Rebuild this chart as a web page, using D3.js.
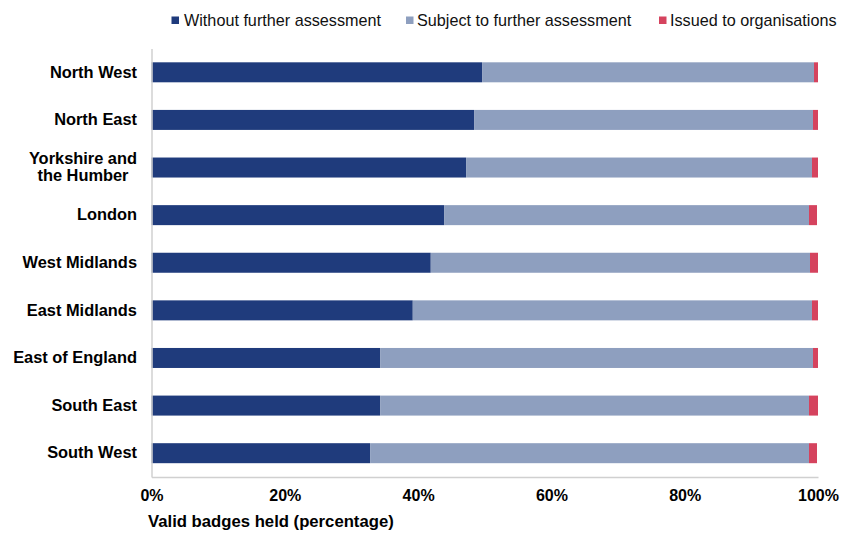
<!DOCTYPE html>
<html>
<head>
<meta charset="utf-8">
<script src="https://cdn.jsdelivr.net/npm/d3@7"></script>
<style>
  body { margin: 0; background: #fff; }
  text { font-family: "Liberation Sans", Arial, sans-serif; }
</style>
</head>
<body>
<svg id="chart" width="851" height="533"></svg>
<script>
// regions, top to bottom
var regions = ["North West", "North East", "Yorkshire and the Humber", "London",
    "West Midlands", "East Midlands", "East of England", "South East", "South West"];

var seriesNames = ["Without further assessment", "Subject to further assessment", "Issued to organisations"];

// percentages
var withoutAssessment = [49.6, 48.4, 47.2, 43.9, 41.9, 39.2, 34.3, 34.3, 32.8];
var subjectToAssessment = [49.8, 50.85, 51.9, 54.75, 56.9, 59.9, 64.95, 64.35, 65.85];
var issuedToOrgs = [0.6, 0.75, 0.9, 1.2, 1.2, 0.9, 0.75, 1.35, 1.2];

var xTicks = [0, 20, 40, 60, 80, 100];

var colors = ["#1f3b7c", "#8e9fbf", "#d5435e"];

var svg = d3.select("#chart");

var x = d3.scaleLinear()
    .domain([0, 100])
    .range([151.5, 818]);

var y = d3.scaleBand()
    .domain(regions)
    .range([48.5, 477])
    .paddingInner(0.58)
    .paddingOuter(0.29);

// stack the three series
var rows = regions.map(function (r, i) {
    return { region: r, a: withoutAssessment[i], b: subjectToAssessment[i], c: issuedToOrgs[i] };
});
var stacked = d3.stack().keys(["a", "b", "c"])(rows);

svg.append("g")
    .selectAll("g")
    .data(stacked)
    .enter().append("g")
    .attr("fill", (d, i) => colors[i])
    .selectAll("rect")
    .data(d => d)
    .enter().append("rect")
    .attr("x", d => x(d[0]))
    .attr("y", d => y(d.data.region))
    .attr("width", d => x(d[1]) - x(d[0]))
    .attr("height", y.bandwidth());

// x axis
var xAxis = svg.append("g")
    .attr("transform", "translate(0,477)")
    .call(d3.axisBottom(x).tickValues(xTicks).tickFormat(d => d + "%").tickSize(0).tickPadding(13));
xAxis.select(".domain").attr("stroke", "#d0d0d0").attr("stroke-width", 1.5);
xAxis.selectAll("text")
    .attr("font-family", "Liberation Sans, Arial, sans-serif")
    .attr("font-size", 16)
    .attr("font-weight", "bold")
    .attr("fill", "#000");

// y axis
var yAxis = svg.append("g")
    .attr("transform", "translate(151.5,0)")
    .call(d3.axisLeft(y).tickSize(0).tickPadding(14.5));
yAxis.select(".domain").attr("stroke", "#d0d0d0").attr("stroke-width", 1.5);
yAxis.selectAll("text")
    .attr("font-family", "Liberation Sans, Arial, sans-serif")
    .attr("font-size", 16.4)
    .attr("font-weight", "bold")
    .attr("fill", "#000");

// two-line label for Yorkshire, lines centred on each other
yAxis.selectAll(".tick text")
    .filter(d => d === "Yorkshire and the Humber")
    .each(function () {
        var t = d3.select(this);
        t.text(null);
        var l1 = t.append("tspan").attr("dy", "-0.22em").text("Yorkshire and");
        var w = l1.node().getComputedTextLength();
        var cx = -14.5 - w / 2;
        t.attr("text-anchor", "middle").attr("x", cx);
        l1.attr("x", cx);
        t.append("tspan").attr("x", cx).attr("dy", "1.07em").text("the Humber");
    });

// axis title
svg.append("text")
    .attr("x", 148)
    .attr("y", 527)
    .attr("font-size", 16.7)
    .attr("font-weight", "bold")
    .attr("fill", "#000")
    .text("Valid badges held (percentage)");

// legend
var legendX = [171.5, 406, 659];
var legend = svg.append("g");
var items = legend.selectAll("g")
    .data(seriesNames)
    .enter().append("g")
    .attr("transform", (d, i) => `translate(${legendX[i]},0)`);
items.append("rect")
    .attr("x", 0)
    .attr("y", 16.5)
    .attr("width", 7.5)
    .attr("height", 7.5)
    .attr("fill", (d, i) => colors[i]);
items.append("text")
    .attr("x", (d, i) => i === 0 ? 12.5 : 11)
    .attr("y", 25.5)
    .attr("font-size", 16.2)
    .attr("fill", "#111")
    .text(d => d);
</script>
</body>
</html>
